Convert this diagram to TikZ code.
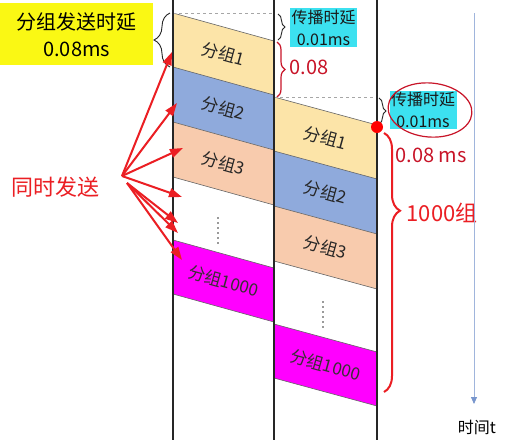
\documentclass[tikz,border=0pt]{standalone}
\usepackage{fontspec}
\setmainfont{Noto Sans CJK SC}
\usetikzlibrary{arrows.meta,decorations.pathreplacing}
\definecolor{pone}{RGB}{252,228,168}
\definecolor{ptwo}{RGB}{143,170,220}
\definecolor{pthree}{RGB}{248,203,173}
\definecolor{pmag}{RGB}{255,0,255}
\definecolor{yel}{RGB}{250,248,20}
\definecolor{cyanbox}{RGB}{60,225,240}
\definecolor{hred}{RGB}{235,30,35}
\definecolor{pen}{RGB}{200,20,40}
\definecolor{axis}{RGB}{120,150,205}
\begin{document}
\begin{tikzpicture}[x=1pt,y=-1pt,
  pkt/.style={font=\fontsize{17}{17}\selectfont, text=black!85, rotate=-15.5, inner sep=0pt},
  sep/.style={draw=black!60, line width=0.6pt},
  colline/.style={draw=black!85, line width=1.2pt},
  guide/.style={draw=black!35, line width=0.5pt, dash pattern=on 3pt off 3pt},
  redarr/.style={draw=hred, line width=2pt, -{Triangle[length=13pt,width=9pt]}},
  cylabel/.style={fill=cyanbox, inner sep=1.5pt, align=center, font=\fontsize{16}{22}\selectfont, text=black!90},
  blkbrace/.style={draw=black!85, line width=0.9pt, decorate},
  penline/.style={draw=pen, line width=1.2pt},
]
\useasboundingbox (0,0) rectangle (507,440);
\fill[white] (0,0) rectangle (507,440);

% packets
\foreach \xa/\xb/\oy/\cx/\dx in {173/274/0/223.5/218, 274/377/84/325.5/323}{
  \fill[pone]   (\xa,13+\oy)  -- (\xb,41+\oy)  -- (\xb,95+\oy)  -- (\xa,67+\oy)  -- cycle;
  \fill[ptwo]   (\xa,67+\oy)  -- (\xb,95+\oy)  -- (\xb,150+\oy) -- (\xa,122+\oy) -- cycle;
  \fill[pthree] (\xa,122+\oy) -- (\xb,150+\oy) -- (\xb,205+\oy) -- (\xa,177+\oy) -- cycle;
  \fill[pmag]   (\xa,240+\oy) -- (\xb,268+\oy) -- (\xb,322+\oy) -- (\xa,294+\oy) -- cycle;
  \foreach \yy in {13,67,122,177,240,294} \draw[sep] (\xa,\yy+\oy) -- (\xb,\yy+28+\oy);
  \node[pkt] (pa\oy) at (\cx,54+\oy) {分组1};
  \node[pkt] (pb\oy) at (\cx,108.5+\oy) {分组2};
  \node[pkt] (pc\oy) at (\cx,163.5+\oy) {分组3};
  \node[pkt, text=black!90!magenta] (pd\oy) at (\cx,281+\oy) {分组1000};
  \foreach \k in {0,...,5} \fill[black!80] (\dx,218+\oy+5*\k) circle (0.9pt);
}

% dashed guides
\draw[guide] (173,13) -- (274,13);
\draw[guide] (274,97) -- (377,97);

% column lines
\draw[colline] (173,0) -- (173,440);
\draw[colline] (274,0) -- (274,440);
\draw[colline] (377,0) -- (377,440);

% yellow label
\node[fill=yel, minimum width=153pt, minimum height=62pt, anchor=north west, align=center,
      font=\fontsize{20}{27}\selectfont, inner sep=0pt] (ybox) at (0,3) {分组发送时延\\0.08ms};
\draw[blkbrace, decoration={brace, amplitude=16pt}] (170,67) -- (170,13);

% cyan labels
\node[cylabel] (cy1) at (323.5,27.5) {传播时延\\0.01ms};
\draw[blkbrace, decoration={brace, amplitude=7pt}] (278,14) -- (278,40);
\node[cylabel] (cy2) at (423,110) {传播时延\\0.01ms};
\draw[blkbrace, decoration={brace, amplitude=7pt}] (379,98) -- (379,124);

% hand-drawn annotations
\draw[penline, decorate, decoration={brace, amplitude=8pt}] (277,42) -- (277,97);
\node[text=pen, font=\fontsize{20}{20}\selectfont] (h008) at (309,67) {0.08};
\draw[penline] (430,110) ellipse [x radius=42pt, y radius=27pt, rotate=-5];
\fill[red] (377,127) circle (6pt);
\node[text=pen, font=\fontsize{20}{20}\selectfont] (h008ms) at (431,155) {0.08 ms};
\draw[draw=hred, line width=2pt, decorate, decoration={brace, amplitude=16pt, aspect=0.3}] (384,133) -- (384,392);
\node[text=hred, font=\fontsize{22}{22}\selectfont] (n1000) at (442,213) {1000组};

% simultaneous sending arrows
\node[text=hred, font=\fontsize{22}{22}\selectfont] (same) at (56,187) {同时发送};
\coordinate (src) at (122,176);
\coordinate (src2) at (127,183);
\coordinate (t1) at (172,52);
\coordinate (t2) at (177,103);
\coordinate (t3) at (183,148);
\coordinate (t4) at (182,197);
\coordinate (t5) at (178,223);
\coordinate (t6) at (178,233);
\coordinate (t7) at (182,260);
\draw[redarr] (src) -- (t1);
\draw[redarr] (src) -- (t2);
\draw[redarr] (src) -- (t3);
\draw[redarr] (src) -- (t4);
\draw[redarr] (src2) -- (t5);
\draw[redarr] (src2) -- (t6);
\draw[redarr] (src2) -- (t7);

% time axis
\coordinate (ta) at (474,13);
\coordinate (tb) at (474,404);
\draw[color=axis!70, line width=0.8pt, -{Triangle[length=7pt,width=6pt,color=axis]}] (ta) -- (tb);
\node[font=\fontsize{16}{16}\selectfont] (tl) at (477,427) {时间t};
\end{tikzpicture}
\end{document}
